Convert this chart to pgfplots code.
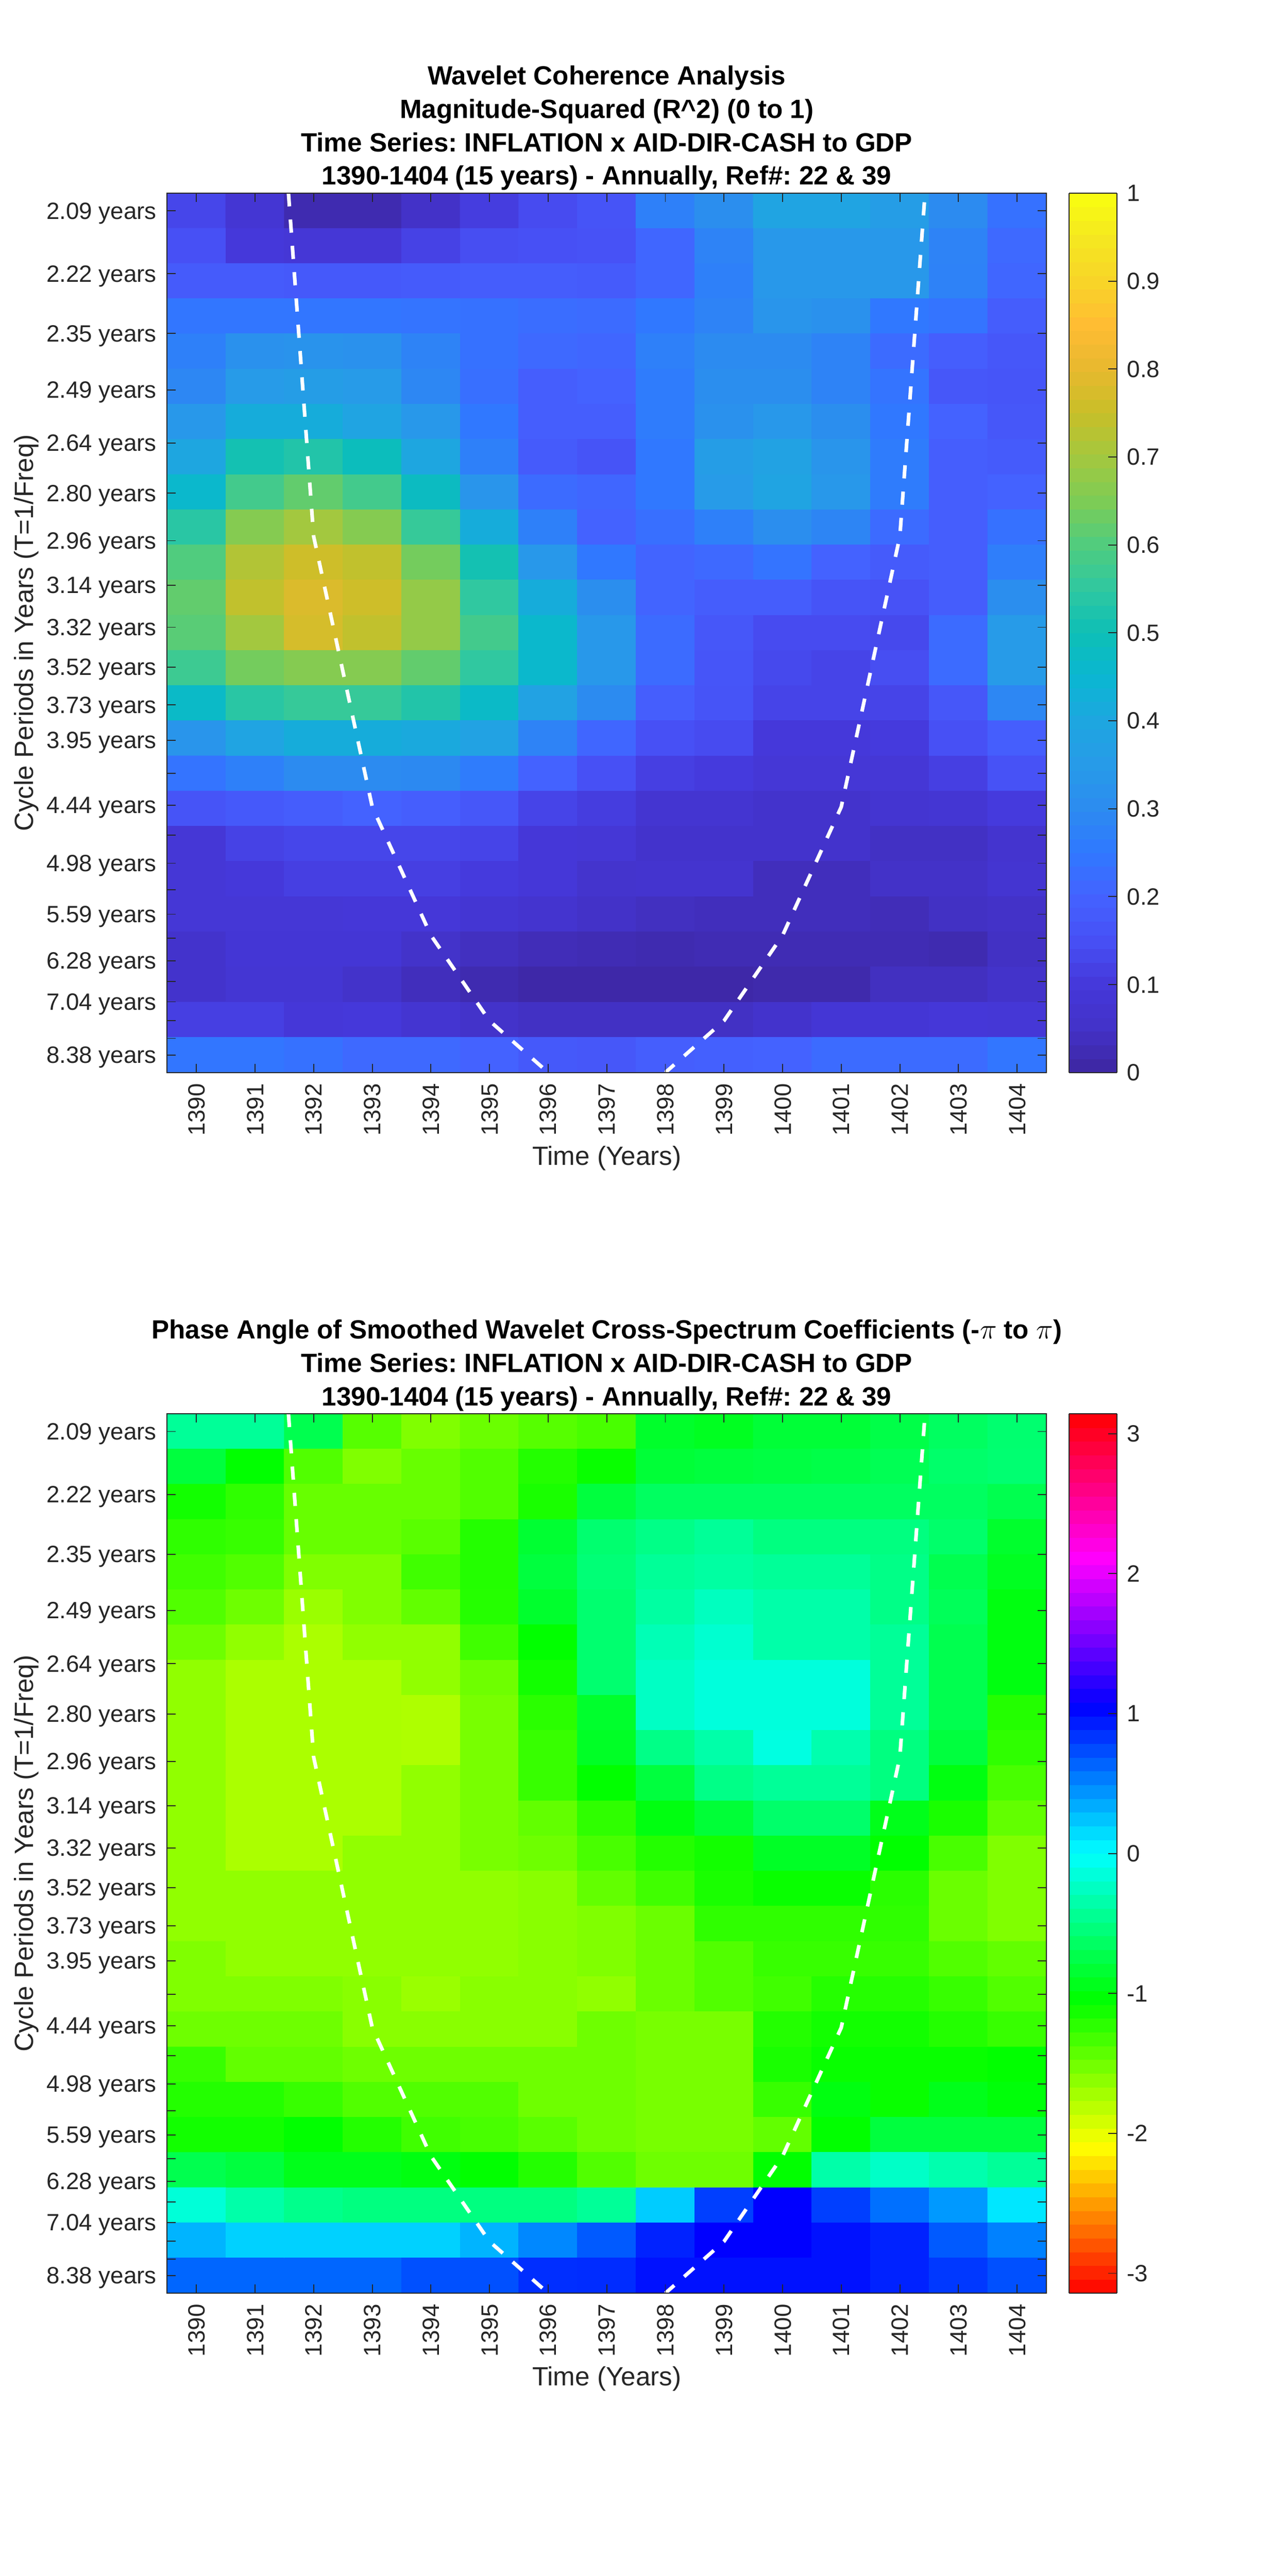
\documentclass[border=0pt]{standalone}
\usepackage{fontspec}
\setmainfont{Liberation Sans}
\usepackage{pgfplots}
\usepackage{pgfplotstable}
\pgfplotsset{compat=1.18}
\definecolor{axgray}{HTML}{262626}
\AtBeginDocument{\frenchspacing}

% coherence R^2, rows = periods top to bottom, cols = 1390..1404
\pgfplotstableread[row sep=\\]{
z\\
0.13\\0.08\\0.02\\0.02\\0.05\\0.11\\0.14\\0.16\\0.27\\0.31\\0.39\\0.39\\0.36\\0.30\\0.235\\
0.15\\0.10\\0.09\\0.09\\0.12\\0.145\\0.15\\0.155\\0.21\\0.28\\0.34\\0.34\\0.34\\0.28\\0.215\\
0.18\\0.18\\0.175\\0.175\\0.18\\0.185\\0.185\\0.18\\0.21\\0.27\\0.34\\0.34\\0.34\\0.275\\0.21\\
0.245\\0.245\\0.245\\0.245\\0.24\\0.235\\0.225\\0.22\\0.25\\0.28\\0.33\\0.32\\0.25\\0.24\\0.185\\
0.27\\0.32\\0.325\\0.32\\0.28\\0.235\\0.215\\0.21\\0.27\\0.30\\0.30\\0.28\\0.22\\0.19\\0.17\\
0.29\\0.35\\0.36\\0.35\\0.29\\0.23\\0.19\\0.20\\0.26\\0.31\\0.31\\0.28\\0.24\\0.17\\0.165\\
0.34\\0.42\\0.42\\0.39\\0.34\\0.25\\0.19\\0.19\\0.26\\0.32\\0.34\\0.31\\0.25\\0.20\\0.17\\
0.40\\0.51\\0.53\\0.49\\0.40\\0.27\\0.18\\0.16\\0.25\\0.36\\0.38\\0.33\\0.26\\0.19\\0.18\\
0.46\\0.58\\0.62\\0.58\\0.48\\0.33\\0.22\\0.21\\0.25\\0.35\\0.39\\0.34\\0.26\\0.19\\0.20\\
0.54\\0.66\\0.70\\0.66\\0.56\\0.42\\0.27\\0.20\\0.23\\0.27\\0.31\\0.285\\0.22\\0.19\\0.235\\
0.60\\0.72\\0.76\\0.74\\0.64\\0.51\\0.34\\0.25\\0.205\\0.215\\0.24\\0.20\\0.18\\0.19\\0.265\\
0.62\\0.74\\0.78\\0.76\\0.68\\0.55\\0.42\\0.31\\0.205\\0.185\\0.185\\0.16\\0.155\\0.185\\0.31\\
0.61\\0.70\\0.77\\0.74\\0.68\\0.58\\0.46\\0.34\\0.22\\0.17\\0.14\\0.14\\0.135\\0.22\\0.35\\
0.57\\0.64\\0.66\\0.66\\0.62\\0.55\\0.46\\0.34\\0.22\\0.165\\0.135\\0.125\\0.145\\0.22\\0.35\\
0.47\\0.54\\0.56\\0.56\\0.53\\0.47\\0.38\\0.30\\0.19\\0.16\\0.125\\0.125\\0.125\\0.17\\0.29\\
0.33\\0.39\\0.42\\0.42\\0.41\\0.38\\0.28\\0.21\\0.15\\0.14\\0.10\\0.10\\0.105\\0.15\\0.19\\
0.24\\0.27\\0.30\\0.30\\0.295\\0.26\\0.20\\0.15\\0.115\\0.105\\0.09\\0.09\\0.09\\0.115\\0.155\\
0.16\\0.175\\0.185\\0.20\\0.19\\0.17\\0.125\\0.11\\0.075\\0.075\\0.06\\0.06\\0.075\\0.08\\0.105\\
0.09\\0.12\\0.13\\0.13\\0.13\\0.125\\0.095\\0.09\\0.06\\0.06\\0.06\\0.06\\0.045\\0.045\\0.07\\
0.09\\0.10\\0.115\\0.115\\0.115\\0.105\\0.095\\0.065\\0.07\\0.07\\0.035\\0.035\\0.05\\0.05\\0.075\\
0.09\\0.09\\0.09\\0.095\\0.095\\0.08\\0.07\\0.05\\0.04\\0.035\\0.035\\0.035\\0.03\\0.045\\0.05\\
0.06\\0.085\\0.085\\0.085\\0.055\\0.04\\0.03\\0.025\\0.02\\0.025\\0.025\\0.025\\0.025\\0.02\\0.045\\
0.06\\0.08\\0.08\\0.055\\0.035\\0.02\\0.01\\0.01\\0.01\\0.01\\0.015\\0.015\\0.04\\0.04\\0.055\\
0.115\\0.115\\0.095\\0.10\\0.075\\0.055\\0.045\\0.045\\0.045\\0.045\\0.06\\0.085\\0.085\\0.095\\0.09\\
0.245\\0.245\\0.235\\0.215\\0.215\\0.20\\0.175\\0.17\\0.19\\0.195\\0.20\\0.22\\0.22\\0.22\\0.245\\
}\cohtab

% phase angle, same layout
\pgfplotstableread[row sep=\\]{
z\\
-0.42\\-0.42\\-0.72\\-1.40\\-1.57\\-1.48\\-1.40\\-1.34\\-0.87\\-0.91\\-0.82\\-0.82\\-0.75\\-0.65\\-0.59\\
-0.79\\-1.05\\-1.38\\-1.57\\-1.47\\-1.38\\-1.19\\-1.08\\-0.82\\-0.79\\-0.77\\-0.75\\-0.70\\-0.61\\-0.58\\
-1.12\\-1.24\\-1.47\\-1.47\\-1.47\\-1.38\\-1.15\\-0.79\\-0.65\\-0.65\\-0.65\\-0.65\\-0.65\\-0.65\\-0.72\\
-1.24\\-1.27\\-1.47\\-1.47\\-1.41\\-1.19\\-0.84\\-0.59\\-0.49\\-0.42\\-0.52\\-0.52\\-0.52\\-0.61\\-0.86\\
-1.31\\-1.38\\-1.57\\-1.57\\-1.31\\-1.19\\-0.79\\-0.56\\-0.42\\-0.38\\-0.42\\-0.42\\-0.49\\-0.72\\-0.91\\
-1.38\\-1.50\\-1.68\\-1.57\\-1.45\\-1.20\\-0.86\\-0.59\\-0.38\\-0.26\\-0.35\\-0.35\\-0.49\\-0.68\\-0.98\\
-1.50\\-1.64\\-1.75\\-1.64\\-1.64\\-1.31\\-1.05\\-0.59\\-0.30\\-0.19\\-0.35\\-0.35\\-0.42\\-0.72\\-0.98\\
-1.64\\-1.75\\-1.75\\-1.75\\-1.64\\-1.50\\-1.12\\-0.59\\-0.24\\-0.14\\-0.14\\-0.14\\-0.42\\-0.72\\-0.98\\
-1.64\\-1.75\\-1.75\\-1.75\\-1.76\\-1.54\\-1.22\\-0.86\\-0.24\\-0.14\\-0.14\\-0.14\\-0.42\\-0.72\\-1.19\\
-1.64\\-1.75\\-1.75\\-1.75\\-1.76\\-1.54\\-1.27\\-0.89\\-0.49\\-0.35\\-0.12\\-0.33\\-0.52\\-0.79\\-1.24\\
-1.64\\-1.75\\-1.75\\-1.75\\-1.64\\-1.54\\-1.27\\-1.05\\-0.79\\-0.49\\-0.42\\-0.42\\-0.52\\-0.98\\-1.34\\
-1.64\\-1.75\\-1.75\\-1.75\\-1.64\\-1.54\\-1.45\\-1.24\\-0.98\\-0.82\\-0.61\\-0.61\\-0.94\\-1.15\\-1.45\\
-1.64\\-1.75\\-1.75\\-1.64\\-1.64\\-1.54\\-1.50\\-1.34\\-1.19\\-1.12\\-0.89\\-0.89\\-1.05\\-1.34\\-1.57\\
-1.64\\-1.64\\-1.64\\-1.64\\-1.64\\-1.64\\-1.61\\-1.45\\-1.31\\-1.15\\-1.08\\-1.08\\-1.22\\-1.48\\-1.57\\
-1.64\\-1.64\\-1.64\\-1.64\\-1.64\\-1.64\\-1.61\\-1.57\\-1.48\\-1.24\\-1.24\\-1.24\\-1.24\\-1.48\\-1.57\\
-1.57\\-1.64\\-1.64\\-1.64\\-1.64\\-1.64\\-1.61\\-1.57\\-1.48\\-1.38\\-1.27\\-1.27\\-1.27\\-1.38\\-1.45\\
-1.57\\-1.57\\-1.57\\-1.61\\-1.68\\-1.61\\-1.61\\-1.64\\-1.48\\-1.38\\-1.31\\-1.20\\-1.20\\-1.27\\-1.38\\
-1.50\\-1.50\\-1.50\\-1.61\\-1.61\\-1.61\\-1.61\\-1.50\\-1.54\\-1.54\\-1.19\\-1.12\\-1.12\\-1.19\\-1.27\\
-1.27\\-1.45\\-1.45\\-1.50\\-1.50\\-1.50\\-1.50\\-1.50\\-1.54\\-1.54\\-1.15\\-1.08\\-1.08\\-1.08\\-1.05\\
-1.19\\-1.19\\-1.27\\-1.38\\-1.38\\-1.38\\-1.50\\-1.50\\-1.54\\-1.54\\-1.27\\-0.98\\-1.08\\-0.94\\-1.01\\
-1.12\\-1.12\\-1.05\\-1.19\\-1.31\\-1.34\\-1.41\\-1.50\\-1.54\\-1.54\\-1.45\\-1.05\\-0.79\\-0.79\\-0.79\\
-0.72\\-0.79\\-0.94\\-0.94\\-0.98\\-1.05\\-1.19\\-1.38\\-1.50\\-1.50\\-1.05\\-0.35\\-0.23\\-0.33\\-0.42\\
-0.16\\-0.35\\-0.47\\-0.52\\-0.52\\-0.52\\-0.52\\-0.42\\0.21\\0.79\\1.05\\0.79\\0.59\\0.42\\0.10\\
0.31\\0.19\\0.19\\0.19\\0.19\\0.31\\0.49\\0.68\\0.91\\1.05\\1.05\\0.98\\0.91\\0.68\\0.52\\
0.63\\0.63\\0.63\\0.63\\0.72\\0.72\\0.86\\0.87\\0.98\\0.98\\0.98\\0.98\\0.91\\0.82\\0.72\\
}\phasetab

\pgfplotsset{
  colormap={cohmap}{
    rgb255=(61,38,160) rgb255=(67,50,200) rgb255=(69,56,218) rgb255=(71,80,245)
    rgb255=(68,98,255) rgb255=(48,120,255) rgb255=(44,139,240) rgb255=(39,155,232)
    rgb255=(30,166,224) rgb255=(10,182,210) rgb255=(13,191,182) rgb255=(48,200,160)
    rgb255=(80,204,126) rgb255=(125,204,85) rgb255=(163,200,63) rgb255=(200,191,40)
    rgb255=(232,185,47) rgb255=(255,188,51) rgb255=(248,213,40) rgb255=(245,232,32)
    rgb255=(248,255,16)
  },
  colormap={phasemap}{
    rgb=(1,0,0) rgb=(1,1,0) rgb=(0,1,0) rgb=(0,1,1) rgb=(0,0,1) rgb=(1,0,1) rgb=(1,0,0)
  },
  cbar common/.style={
    at={(parent axis.north east)}, anchor=north west, width=29pt,
    ytick pos=right, yticklabel pos=right, tick align=inside,
    major tick length=5.3pt,
    tick style={draw=axgray, line width=0.6pt},
    axis line style={draw=axgray, line width=0.6pt},
    samples=65,
    yticklabel style={font=\fontsize{14.3}{14.3}\selectfont, color=axgray,
      inner sep=0pt, xshift=6pt, text depth=0pt},
  },
  panel/.style={
    anchor=south west, scale only axis, width=533.5pt, height=533.5pt,
    xmin=1389.5, xmax=1404.5, ymin=0.5, ymax=25.5, y dir=reverse,
    axis on top, tick align=inside, tick pos=both, major tick length=5.3pt,
    tick style={draw=axgray, line width=0.6pt},
    axis line style={draw=axgray, line width=0.6pt},
    xtick={1390,1391,...,1404},
    xticklabels={1390,1391,1392,1393,1394,1395,1396,1397,1398,1399,1400,1401,1402,1403,1404},
    ytick={1,2.79,4.49,6.09,7.60,9.03,10.38,11.64,12.84,13.97,15.05,16.05,17.0,17.9,18.75,19.55,20.31,21.0,21.68,22.32,22.91,23.49,24.02,24.53,25},
    yticklabels={2.09 years,2.22 years,2.35 years,2.49 years,2.64 years,2.80 years,2.96 years,3.14 years,3.32 years,3.52 years,3.73 years,3.95 years,{},4.44 years,{},4.98 years,{},5.59 years,{},6.28 years,{},7.04 years,{},{},8.38 years},
    xticklabel style={font=\fontsize{14.3}{14.3}\selectfont, color=axgray,
      yshift=-6.5pt, rotate=90, anchor=east, inner sep=0pt, text depth=0pt},
    yticklabel style={font=\fontsize{14.3}{14.3}\selectfont, color=axgray,
      xshift=-6.2pt, anchor=east, inner sep=0pt, text depth=0pt},
    xlabel={Time (Years)},
    ylabel={Cycle Periods in Years (T=1/Freq)},
    xlabel style={font=\fontsize{16}{16}\selectfont, color=axgray,
      at={(axis description cs:0.5,-0.1054)}, anchor=base},
    ylabel style={font=\fontsize{16}{16}\selectfont, color=axgray,
      at={(axis description cs:-0.1523,0.5)}, anchor=base},
    title style={font=\fontsize{16}{20.25}\selectfont\bfseries, color=black,
      align=center, at={(axis description cs:0.5,1)}, anchor=south,
      inner sep=0pt, yshift=-4.5pt},
    colorbar sampled,
    colorbar shift/.style={xshift=13.75pt},
  },
  heat/.style={matrix plot*, point meta=explicit, mesh/cols=15},
  coi/.style={white, line width=2.2pt, dash pattern=on 8pt off 8pt, no marks},
}

\begin{document}
\begin{tikzpicture}
\path[use as bounding box] (0,0) rectangle (781.25pt,1563pt);

\begin{axis}[panel, at={(101.4pt,912.25pt)},
  title={Wavelet Coherence Analysis\\Magnitude-Squared (R\textasciicircum 2) (0 to 1)\\Time Series: INFLATION x AID-DIR-CASH to GDP\\1390-1404 (15 years) - Annually, Ref\#: 22 \& 39},
  colormap name=cohmap, point meta min=0, point meta max=1,
  colorbar style={cbar common,
    ytick={0,0.1,0.2,0.3,0.4,0.5,0.6,0.7,0.8,0.9,1},
    yticklabels={0,0.1,0.2,0.3,0.4,0.5,0.6,0.7,0.8,0.9,1}},
]
\addplot[heat] table[x index=0, y index=0, x expr={1390+mod(\coordindex,15)},
  y expr={1+(\coordindex-mod(\coordindex,15))/15}, meta=z] {\cohtab};
% cone of influence
\addplot[coi] coordinates {(1391.57,0.5) (1392,10.26) (1393,17.95) (1394,21.6) (1395,24.03) (1396,25.5)};
\addplot[coi, dash phase=10.5pt] coordinates {(1402.43,0.5) (1402,10.26) (1401,17.95) (1400,21.6) (1399,24.03) (1398,25.5)};
\end{axis}

\begin{axis}[panel, at={(101.4pt,171.6pt)},
  title={Phase Angle of Smoothed Wavelet Cross-Spectrum Coefficients (-$\pi$ to $\pi$)\\Time Series: INFLATION x AID-DIR-CASH to GDP\\1390-1404 (15 years) - Annually, Ref\#: 22 \& 39},
  colormap name=phasemap, point meta min=-3.14159, point meta max=3.14159,
  colorbar style={cbar common,
    ytick={-3,-2,-1,0,1,2,3},
    yticklabels={-3,-2,-1,0,1,2,3}},
]
\addplot[heat] table[x index=0, y index=0, x expr={1390+mod(\coordindex,15)},
  y expr={1+(\coordindex-mod(\coordindex,15))/15}, meta=z] {\phasetab};
\addplot[coi] coordinates {(1391.57,0.5) (1392,10.26) (1393,17.95) (1394,21.6) (1395,24.03) (1396,25.5)};
\addplot[coi, dash phase=10.5pt] coordinates {(1402.43,0.5) (1402,10.26) (1401,17.95) (1400,21.6) (1399,24.03) (1398,25.5)};
\end{axis}
\end{tikzpicture}
\end{document}
